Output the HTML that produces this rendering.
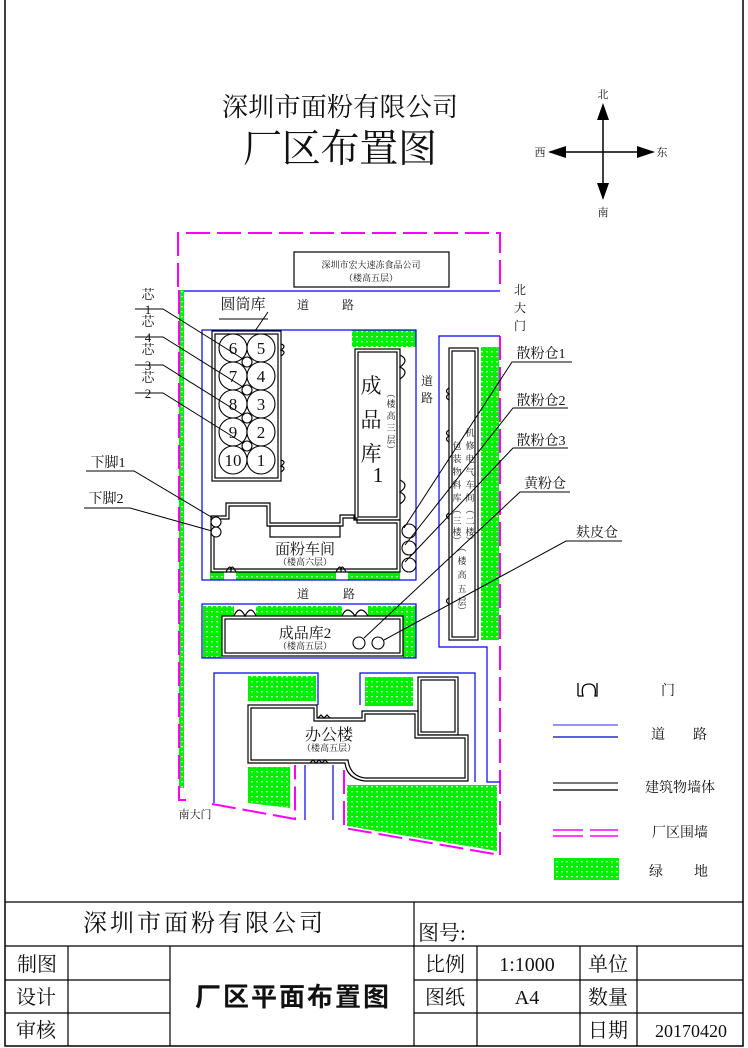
<!DOCTYPE html>
<html><head><meta charset="utf-8"><style>
html,body{margin:0;padding:0;background:#fff}
svg{display:block}
text{font-family:"Liberation Serif","Noto Serif CJK SC","Noto Sans CJK SC",serif;fill:#111}
.s{font-family:"Liberation Sans","Noto Sans CJK SC",sans-serif}
</style></head><body>
<svg width="748" height="1048" viewBox="0 0 748 1048" xmlns="http://www.w3.org/2000/svg">
<defs>
<pattern id="g" width="5" height="5" patternUnits="userSpaceOnUse">
<rect width="5" height="5" fill="#00ee00"/>
<path d="M1 1 L3 1 L2 3 Z" fill="#fff"/>
</pattern>
</defs>
<rect x="5" y="-1" width="738" height="1047" fill="none" stroke="#000" stroke-width="1.5"/>

<!-- titles -->
<text x="340" y="116" font-size="26" text-anchor="middle" textLength="236">深圳市面粉有限公司</text>
<text x="340" y="162" font-size="39" text-anchor="middle" textLength="194">厂区布置图</text>

<!-- compass -->
<g stroke="#000" stroke-width="1.5"><line x1="603" y1="105" x2="603" y2="198"/><line x1="550" y1="152" x2="653" y2="152"/></g>
<path d="M603 103 L597 120 L609 120Z M603 200 L597 183 L609 183Z M548 152 L566 146 L566 158Z M655 152 L637 146 L637 158Z" fill="#000"/>
<text x="603" y="98" font-size="11" text-anchor="middle">北</text>
<text x="603" y="216" font-size="11" text-anchor="middle">南</text>
<text x="540" y="156" font-size="11" text-anchor="middle">西</text>
<text x="662" y="156" font-size="11" text-anchor="middle">东</text>

<!-- green -->
<g fill="url(#g)">
<rect x="179" y="290" width="5" height="498"/>
<rect x="352" y="330" width="64" height="17"/>
<rect x="481" y="347" width="18" height="293"/>
<rect x="210" y="571" width="14" height="9"/><rect x="236" y="571" width="100" height="9"/><rect x="348" y="571" width="52" height="9"/>
<rect x="203" y="606" width="19" height="52"/><rect x="403" y="606" width="13" height="52"/>
<rect x="222" y="606" width="12" height="10"/><rect x="256" y="606" width="86" height="10"/><rect x="368" y="606" width="35" height="10"/>
<rect x="248" y="676" width="68" height="25"/>
<rect x="365" y="677" width="48" height="29"/>
<path d="M248 767 L290 767 L290 808 L248 803Z"/>
<path d="M347 785 L497 785 L497 851 L347 826Z"/>
</g>

<!-- pink fence -->
<g fill="none" stroke="#ff00ff" stroke-width="2" stroke-dasharray="24,7">
<path d="M178 287 L178 233 L500 233 L500 290"/>
<path d="M500 336 L500 855"/>
<path d="M179 290 L179 800 L186 800"/>
<path d="M212 804 L295 819 L295 765"/>
<path d="M344 770 L344 828 L500 855"/>
</g>

<!-- blue roads -->
<g fill="none" stroke="#0000ee" stroke-width="1.2">
<line x1="184" y1="291" x2="500" y2="291"/>
<rect x="202" y="330" width="214" height="250"/>
<path d="M500 336 L439 336 L439 647 L487 647 L487 782 L500 782"/>
<rect x="202" y="604" width="214" height="54"/>
<path d="M214 803 L214 673 L318 673 L318 705"/>
<path d="M360 705 L360 673 L475 673 L475 782"/>
<line x1="305" y1="765" x2="305" y2="820"/>
<line x1="333" y1="765" x2="333" y2="820"/>
</g>

<!-- buildings -->
<g fill="#fff" stroke="#000" stroke-width="1.2">
<rect x="294" y="252" width="155" height="35"/>
<rect x="212" y="331" width="69" height="150"/>
<rect x="215" y="334" width="63" height="144" fill="none"/>
<rect x="355" y="349" width="45" height="171"/>
<rect x="358" y="352" width="39" height="165" fill="none"/>
<path d="M211 516 L226 516 L226 503 L270 503 L270 523 L340 523 L340 515 L354 515 L354 520 L400 520 L400 572 L211 572Z"/>
<path d="M214 519 L229 519 L229 506 L267 506 L267 526 L343 526 L343 518 L357 518 L357 523 L397 523 L397 569 L214 569Z" fill="none"/>
<rect x="270" y="526" width="70" height="11" fill="none"/>
<rect x="449" y="348" width="29" height="292"/>
<rect x="452" y="351" width="23" height="286" fill="none"/>
<rect x="222" y="616" width="181" height="40"/>
<rect x="225" y="619" width="175" height="34" fill="none"/>
<rect x="418" y="677" width="40" height="58"/>
<rect x="421" y="680" width="34" height="52" fill="none"/>
<path d="M248 705 L317 705 L317 718 L362 718 L362 711 L418 711 L418 735 L468 735 L468 781 L365 781 Q347 779 345 763 L248 763Z"/>
<path d="M251 708 L314 708 L314 721 L365 721 L365 714 L415 714 L415 738 L465 738 L465 778 L365 778 Q350 776 348 760 L251 760Z" fill="none"/>
</g>
<!-- doors -->
<g fill="none" stroke="#000" stroke-width="1.2">
<path d="M281 344 q6 2 0 6 q6 2 0 6 M281 460 q6 2 0 6 q6 2 0 6"/>
<path d="M400 355 q10 5 0 12 q10 5 0 12 M400 480 q10 5 0 12 q10 5 0 12"/>
<path d="M226 572 q5 -10 5 0 q0 -10 5 0 M336 572 q5 -10 5 0 q0 -10 5 0"/>
<path d="M234 616 q5 -12 11 0 q6 -12 11 0 M342 616 q5 -12 13 0 q6 -12 13 0"/>
<path d="M449 388 q-5 3 0 6 q-5 3 0 6 M449 430 q-5 3 0 6 q-5 3 0 6 M449 513 q-5 3 0 6 M449 598 q-5 3 0 6"/>
<path d="M318 718 l3 -3 l3 3 l3 -3 l3 3 M310 763 l3 -3 l3 3 l3 -3 l3 3 l3 -3 l3 3"/>
</g>

<!-- silos -->
<g fill="#fff" stroke="#000" stroke-width="1.1">
<circle cx="233" cy="348" r="14"/><circle cx="261" cy="348" r="14"/>
<circle cx="233" cy="376" r="14"/><circle cx="261" cy="376" r="14"/>
<circle cx="233" cy="404" r="14"/><circle cx="261" cy="404" r="14"/>
<circle cx="233" cy="432" r="14"/><circle cx="261" cy="432" r="14"/>
<circle cx="233" cy="460" r="14"/><circle cx="261" cy="460" r="14"/>
<circle cx="247" cy="362" r="5"/><circle cx="247" cy="390" r="5"/><circle cx="247" cy="418" r="5"/><circle cx="247" cy="446" r="5"/>
<circle cx="216" cy="522" r="5"/><circle cx="216" cy="532" r="5"/>
<circle cx="409" cy="531" r="7"/><circle cx="409" cy="548" r="7"/><circle cx="409" cy="565" r="7"/>
<circle cx="359" cy="643" r="6"/><circle cx="378" cy="643" r="6"/>
</g>
<g font-size="17" text-anchor="middle">
<text x="233" y="354">6</text><text x="261" y="354">5</text>
<text x="233" y="382">7</text><text x="261" y="382">4</text>
<text x="233" y="410">8</text><text x="261" y="410">3</text>
<text x="233" y="438">9</text><text x="261" y="438">2</text>
<text x="233" y="466">10</text><text x="261" y="466">1</text>
</g>

<!-- leader lines -->
<g fill="none" stroke="#000" stroke-width="1">
<path d="M135 309 L163 309 L243 359"/>
<path d="M135 337 L163 337 L243 387"/>
<path d="M135 365 L163 365 L243 415"/>
<path d="M135 393 L163 393 L243 443"/>
<path d="M268 312 L255 331 M219 319 L268 319"/>
<path d="M86 471 L134 471 L213 518"/>
<path d="M84 508 L130 508 L212 531"/>
<path d="M572 362 L512 362 L404 528"/>
<path d="M568 408 L513 408 L405 545"/>
<path d="M568 448 L513 448 L405 562"/>
<path d="M570 492 L520 492 L364 638"/>
<path d="M622 541 L566 541 L384 640"/>
</g>

<!-- labels -->
<g font-size="13" text-anchor="middle">
<text x="148" y="299">芯</text><text x="148" y="314">1</text>
<text x="148" y="326">芯</text><text x="148" y="342">4</text>
<text x="148" y="354">芯</text><text x="148" y="370">3</text>
<text x="148" y="382">芯</text><text x="148" y="398">2</text>
</g>
<text x="243" y="309" font-size="15" text-anchor="middle">圆筒库</text>
<text x="108" y="467" font-size="14" text-anchor="middle">下脚1</text>
<text x="106" y="503" font-size="14" text-anchor="middle">下脚2</text>
<text x="541" y="358" font-size="14" text-anchor="middle">散粉仓1</text>
<text x="541" y="405" font-size="14" text-anchor="middle">散粉仓2</text>
<text x="541" y="445" font-size="14" text-anchor="middle">散粉仓3</text>
<text x="545" y="488" font-size="14" text-anchor="middle">黄粉仓</text>
<text x="597" y="537" font-size="14" text-anchor="middle">麸皮仓</text>
<g font-size="12" text-anchor="middle">
<text x="303" y="309">道</text><text x="348" y="309">路</text>
<text x="303" y="598">道</text><text x="349" y="598">路</text>
<text x="427" y="385">道</text><text x="427" y="402">路</text>
<text x="520" y="294">北</text><text x="520" y="312">大</text><text x="520" y="330">门</text>
<text x="195" y="818" font-size="11">南大门</text>
</g>
<g font-size="9" text-anchor="middle" fill="#333">
<text x="371" y="268">深圳市宏大速冻食品公司</text>
<text x="371" y="281">（楼高五层）</text>
<text x="305" y="565">（楼高六层）</text>
<text x="305" y="649">（楼高五层）</text>
<text x="329" y="751">（楼高五层）</text>
</g>
<g font-size="21" text-anchor="middle">
<text x="371" y="393">成</text><text x="371" y="427">品</text><text x="371" y="461">库</text><text x="378" y="482">1</text>
</g>
<g font-size="9" text-anchor="middle" fill="#333">
<text x="391" y="397">︵</text><text x="391" y="407">楼</text><text x="391" y="419">高</text><text x="391" y="431">三</text><text x="391" y="443">层</text><text x="391" y="453">︶</text>
<text x="470" y="436">机</text><text x="470" y="449">修</text><text x="470" y="462">电</text><text x="470" y="475">气</text><text x="470" y="488">车</text><text x="470" y="501">间</text><text x="470" y="513">︵</text><text x="470" y="524">二</text><text x="470" y="535">楼</text><text x="470" y="544">︶</text>
<text x="457" y="449">包</text><text x="457" y="462">装</text><text x="457" y="475">物</text><text x="457" y="488">料</text><text x="457" y="501">库</text><text x="457" y="513">︵</text><text x="457" y="524">三</text><text x="457" y="535">楼</text><text x="457" y="544">︶</text>
<text x="462" y="551">︵</text><text x="462" y="564">楼</text><text x="462" y="578">高</text><text x="462" y="592">五</text><text x="462" y="605">层</text><text x="462" y="614">︶</text>
</g>
<text x="305" y="554" font-size="15" text-anchor="middle">面粉车间</text>
<text x="305" y="638" font-size="15" text-anchor="middle">成品库2</text>
<text x="329" y="740" font-size="16" text-anchor="middle">办公楼</text>

<!-- legend -->
<path d="M578 696 L578 683 M578 696 L583 696 Q580 684 589 684 Q597 684 595 696 L597 696 L597 683" fill="none" stroke="#000" stroke-width="1.3"/>
<text x="668" y="695" font-size="14" text-anchor="middle">门</text>
<line x1="553" y1="725" x2="618" y2="725" stroke="#5555ff" stroke-width="1.3"/>
<line x1="553" y1="737" x2="618" y2="737" stroke="#0000cc" stroke-width="1.3"/>
<text x="658" y="739" font-size="14" text-anchor="middle">道</text><text x="700" y="739" font-size="14" text-anchor="middle">路</text>
<line x1="553" y1="783" x2="618" y2="783" stroke="#777" stroke-width="2"/>
<line x1="553" y1="790" x2="618" y2="790" stroke="#222" stroke-width="1.5"/>
<text x="680" y="792" font-size="14" text-anchor="middle">建筑物墙体</text>
<g stroke="#ff00ff" stroke-width="1.5"><line x1="553" y1="830" x2="583" y2="830"/><line x1="590" y1="830" x2="618" y2="830"/><line x1="553" y1="836" x2="583" y2="836"/><line x1="590" y1="836" x2="618" y2="836"/></g>
<text x="680" y="837" font-size="14" text-anchor="middle">厂区围墙</text>
<rect x="554" y="858" width="65" height="22" fill="url(#g)"/>
<text x="656" y="876" font-size="14" text-anchor="middle">绿</text><text x="701" y="876" font-size="14" text-anchor="middle">地</text>

<!-- title block -->
<g stroke="#000" stroke-width="1.2" fill="none">
<line x1="5" y1="902" x2="743" y2="902"/>
<line x1="5" y1="946" x2="743" y2="946"/>
<line x1="5" y1="980" x2="170" y2="980"/><line x1="414" y1="980" x2="743" y2="980"/>
<line x1="5" y1="1013" x2="170" y2="1013"/><line x1="414" y1="1013" x2="743" y2="1013"/>
<line x1="414" y1="902" x2="414" y2="1046"/>
<line x1="68" y1="946" x2="68" y2="1046"/>
<line x1="170" y1="946" x2="170" y2="1046"/>
<line x1="477" y1="946" x2="477" y2="1046"/>
<line x1="580" y1="946" x2="580" y2="1046"/>
<line x1="637" y1="946" x2="637" y2="1046"/>
</g>
<text x="203" y="931" font-size="24" text-anchor="middle" textLength="240">深圳市面粉有限公司</text>
<text x="418" y="940" font-size="21">图号:</text>
<g font-size="20" text-anchor="middle">
<text x="37" y="971">制图</text><text x="36" y="1004">设计</text><text x="36" y="1037">审核</text>
<text x="445" y="971">比例</text><text x="445" y="1004">图纸</text>
<text x="608" y="971">单位</text><text x="608" y="1004">数量</text><text x="608" y="1037">日期</text>
<text x="527" y="971">1:1000</text><text x="527" y="1004">A4</text>
<text x="691" y="1037" font-size="18">20170420</text>
</g>
<text x="292" y="1006" font-size="26" font-weight="bold" text-anchor="middle" class="s" textLength="194">厂区平面布置图</text>
</svg>
</body></html>
